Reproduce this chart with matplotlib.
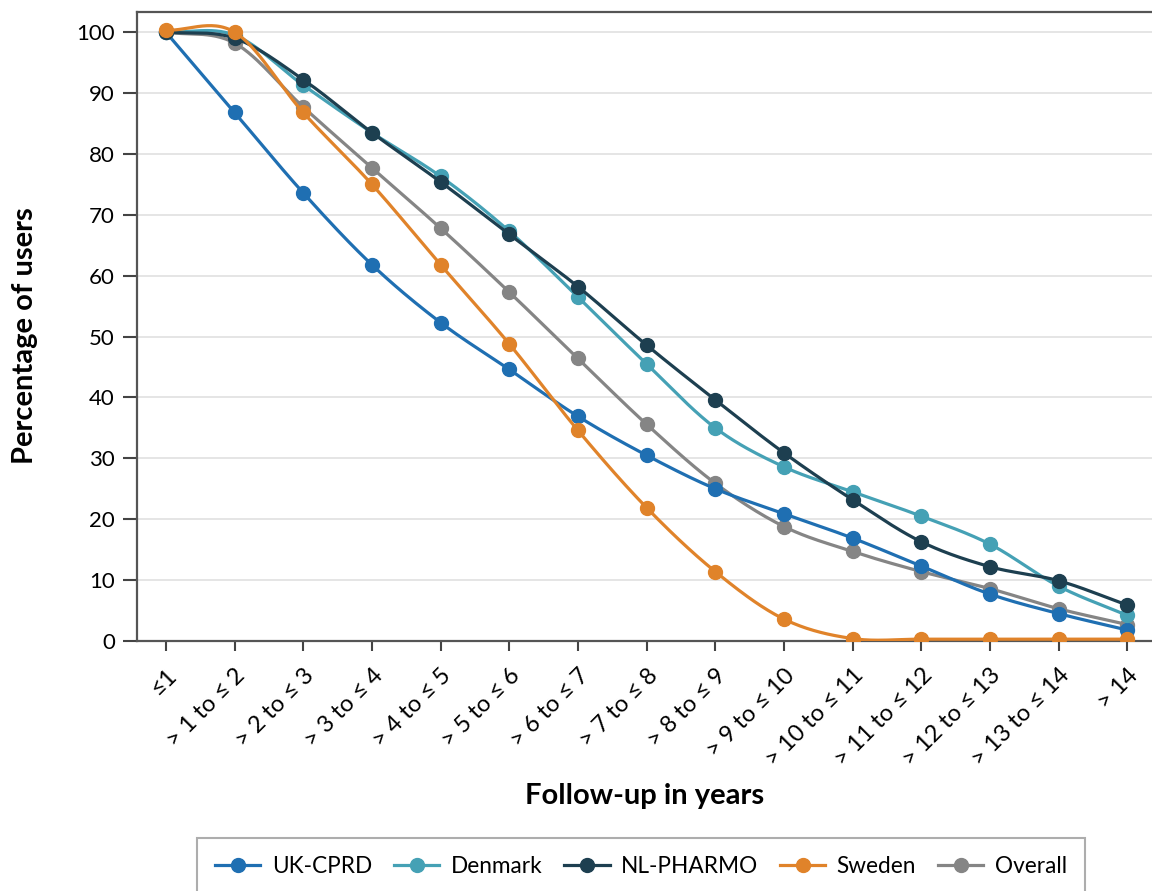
#!/usr/bin/env python3
"""
Persistence curves: percentage of users still on treatment by follow-up year.
"""

import matplotlib
matplotlib.use("Agg")
import matplotlib.pyplot as plt
import numpy as np

plt.rcParams['font.family'] = ['Lato', 'DejaVu Sans']

categories = ["\u22641"] + [f"> {i} to \u2264 {i + 1}" for i in range(1, 14)] + ["> 14"]

uk_cprd = [100, 86.8, 73.6, 61.8, 52.3, 44.6, 36.9, 30.5, 25.0, 20.9, 16.9, 12.3, 7.7, 4.5, 1.8]
denmark = [100, 99.5, 91.3, 83.5, 76.3, 67.3, 56.5, 45.5, 35.0, 28.6, 24.5, 20.5, 15.9, 9.0, 4.2]
nl_pharmo = [100, 99.0, 92.2, 83.5, 75.4, 66.8, 58.2, 48.6, 39.6, 30.9, 23.2, 16.3, 12.2, 9.9, 5.9]
sweden = [100.3, 100, 86.8, 75.0, 61.8, 48.8, 34.6, 21.9, 11.4, 3.6, 0.4, 0.3, 0.3, 0.3, 0.3]
overall = [100, 98.2, 87.7, 77.7, 67.8, 57.3, 46.4, 35.6, 25.9, 18.8, 14.7, 11.4, 8.6, 5.3, 2.7]

series = [
    ("UK-CPRD", uk_cprd, "#1f6fb2", 3),
    ("Denmark", denmark, "#45a1b5", 4),
    ("NL-PHARMO", nl_pharmo, "#1d3f50", 5),
    ("Sweden", sweden, "#e0832a", 6),
    ("Overall", overall, "#858585", 2),
]


def smooth(y, n=30):
    """Catmull-Rom curve through evenly spaced points (line drawing only)."""
    y = np.asarray(y, dtype=float)
    p = np.concatenate([[2 * y[0] - y[1]], y, [2 * y[-1] - y[-2]]])
    xs, ys = [], []
    t = np.linspace(0, 1, n, endpoint=False)
    for i in range(len(y) - 1):
        p0, p1, p2, p3 = p[i], p[i + 1], p[i + 2], p[i + 3]
        seg = 0.5 * ((2 * p1) + (-p0 + p2) * t + (2 * p0 - 5 * p1 + 4 * p2 - p3) * t ** 2
                     + (-p0 + 3 * p1 - 3 * p2 + p3) * t ** 3)
        xs.append(i + t)
        ys.append(seg)
    xs.append([len(y) - 1])
    ys.append([y[-1]])
    return np.concatenate(xs), np.concatenate(ys)


fig = plt.figure(figsize=(11.52, 8.91), dpi=100)
ax = fig.add_axes([137 / 1152, 1 - 641 / 891, 1 - 137 / 1152, (641 - 12) / 891])

x = np.arange(len(categories))
for name, vals, color, z in series:
    sx, sy = smooth(vals)
    ax.plot(sx, sy, color=color, linewidth=2.3, zorder=z)
    ax.plot(x, vals, 'o', color=color, markersize=10, zorder=z)
    ax.plot([], [], '-o', color=color, linewidth=2.3, markersize=10, label=name)

ax.set_xlim(-0.42, 14.36)
ax.set_ylim(0, 103.3)
ax.set_yticks(np.arange(0, 101, 10))
ax.set_xticks(x)
ax.set_xticklabels(categories, rotation=45, ha='right', rotation_mode='anchor')
ax.tick_params(axis='y', labelsize=16, length=10, width=1.5, color='#444444', pad=6)
ax.tick_params(axis='x', labelsize=17, length=7, width=1.5, color='#444444', pad=10)

ax.grid(axis='y', color='#e3e3e3', linewidth=1.3)
ax.set_axisbelow(True)
for side in ['left', 'bottom', 'top']:
    ax.spines[side].set_color('#555555')
    ax.spines[side].set_linewidth(1.6)
ax.spines['right'].set_visible(False)

ax.set_ylabel('Percentage of users', fontsize=21, fontweight='bold')
ax.yaxis.set_label_coords(-0.0975, 0.485)
ax.set_xlabel('Follow-up in years', fontsize=21, fontweight='bold', labelpad=9)

leg = fig.legend(loc='upper center', bbox_to_anchor=(641 / 1152, 1 - 838 / 891),
                 ncol=5, fontsize=16.3, frameon=True, fancybox=False, borderpad=0.8,
                 borderaxespad=0, handlelength=2.0, columnspacing=0.97, handletextpad=0.5)
leg.get_frame().set_edgecolor('#999999')
leg.get_frame().set_linewidth(1.5)

fig.savefig('out.png', dpi=100)
